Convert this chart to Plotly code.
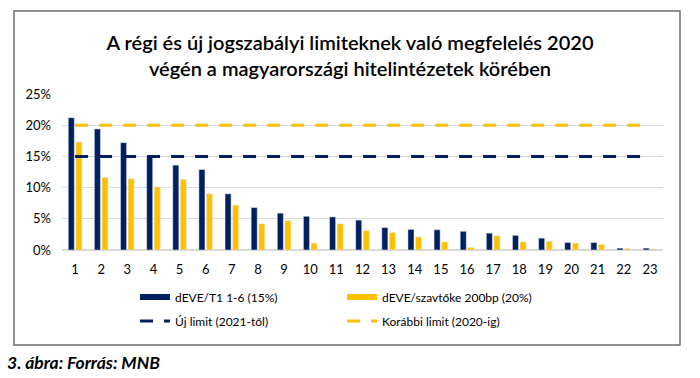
import plotly.graph_objects as go

categories = [str(i) for i in range(1, 24)]
deve_t1 = [21.2, 19.4, 17.2, 15.0, 13.6, 12.9, 9.0, 6.8, 5.9, 5.4, 5.3, 4.8,
           3.6, 3.3, 3.25, 3.0, 2.7, 2.35, 1.9, 1.2, 1.2, 0.3, 0.3]
deve_szavt = [17.3, 11.6, 11.4, 10.1, 11.3, 9.0, 7.2, 4.2, 4.7, 1.1, 4.2, 3.1,
              2.8, 2.1, 1.3, 0.4, 2.3, 1.3, 1.4, 1.1, 0.9, 0.25, 0.15]
uj_limit = [15] * len(categories)
korabbi_limit = [20] * len(categories)
y_ticks = [0, 5, 10, 15, 20, 25]
y_tick_labels = ["0%", "5%", "10%", "15%", "20%", "25%"]

NAVY = "#002060"
YELLOW = "#FFC000"
FONT = "Lato"

W, H = 700, 378
L, R, T, B = 62, 37, 94, 128
pw, ph = W - L - R, H - T - B

def px_x(x):
    return (x - L) / pw

def px_y(y):
    return (H - B - y) / ph

fig = go.Figure()
fig.add_trace(go.Bar(x=categories, y=deve_t1, marker_color=NAVY, name="dEVE/T1 1-6 (15%)",
                     showlegend=False))
fig.add_trace(go.Bar(x=categories, y=deve_szavt, marker_color=YELLOW, name="dEVE/szavtőke 200bp (20%)",
                     showlegend=False))
fig.add_trace(go.Scatter(x=categories, y=uj_limit, mode="lines", name="Új limit (2021-től)",
                         line=dict(color=NAVY, width=3, dash="13px,11px"), legend="legend2"))
fig.add_trace(go.Scatter(x=categories, y=korabbi_limit, mode="lines", name="Korábbi limit (2020-ig)",
                         line=dict(color=YELLOW, width=3, dash="13px,11px"), legend="legend2"))
# legend entries for bars (wide rectangle symbol)
fig.add_trace(go.Scatter(x=[None], y=[None], mode="lines", name="dEVE/T1 1-6 (15%)",
                         line=dict(color=NAVY, width=6), legend="legend"))
fig.add_trace(go.Scatter(x=[None], y=[None], mode="lines", name="dEVE/szavtőke 200bp (20%)",
                         line=dict(color=YELLOW, width=6), legend="legend"))

legend_common = dict(orientation="h", xanchor="left", yanchor="middle", entrywidth=162,
                      font=dict(family=FONT, size=12, color="#000000"),
                      bgcolor="rgba(0,0,0,0)", traceorder="normal", itemclick=False)
fig.update_layout(
    width=W, height=H,
    margin=dict(l=L, r=R, t=T, b=B),
    paper_bgcolor="white", plot_bgcolor="white",
    barmode="group", bargap=0.42, bargroupgap=0.2,
    font=dict(family=FONT, color="#000000"),
    title=dict(text="A régi és új jogszabályi limiteknek való megfelelés 2020<br>végén a magyarországi hitelintézetek körében",
               x=0.5, xanchor="center", xref="container", y=1 - 50 / H, yanchor="middle", yref="container",
               font=dict(family=FONT, size=20, color="#000000", weight=600)),
    xaxis=dict(type="category", showgrid=False, showline=False, ticks="", ticklabelstandoff=10,
               tickfont=dict(family=FONT, size=13, color="#000000")),
    yaxis=dict(range=[0, 25], tickvals=y_ticks, ticktext=y_tick_labels, showgrid=True, gridcolor="#D9D9D9",
               gridwidth=1, zeroline=True, zerolinecolor="#D9D9D9", showline=False, ticks="",
               ticklabelstandoff=10, tickfont=dict(family=FONT, size=13, color="#000000")),
    legend=dict(x=px_x(135), y=px_y(297), **legend_common),
    legend2=dict(x=px_x(135), y=px_y(321), **legend_common),
    shapes=[dict(type="rect", xref="paper", yref="paper", x0=px_x(14), x1=px_x(680),
                 y0=px_y(345), y1=px_y(11), line=dict(color="#6E6E6E", width=1.5), layer="below")],
    annotations=[dict(text="<b><i>3. ábra: Forrás: MNB</i></b>", xref="paper", yref="paper",
                      x=px_x(5), y=px_y(362), xanchor="left", yanchor="middle", showarrow=False,
                      font=dict(family=FONT, size=17.5, color="#000000"))],
)

fig.write_html("out.html", config={"displayModeBar": False},
               post_script="document.body.style.margin='0';")
